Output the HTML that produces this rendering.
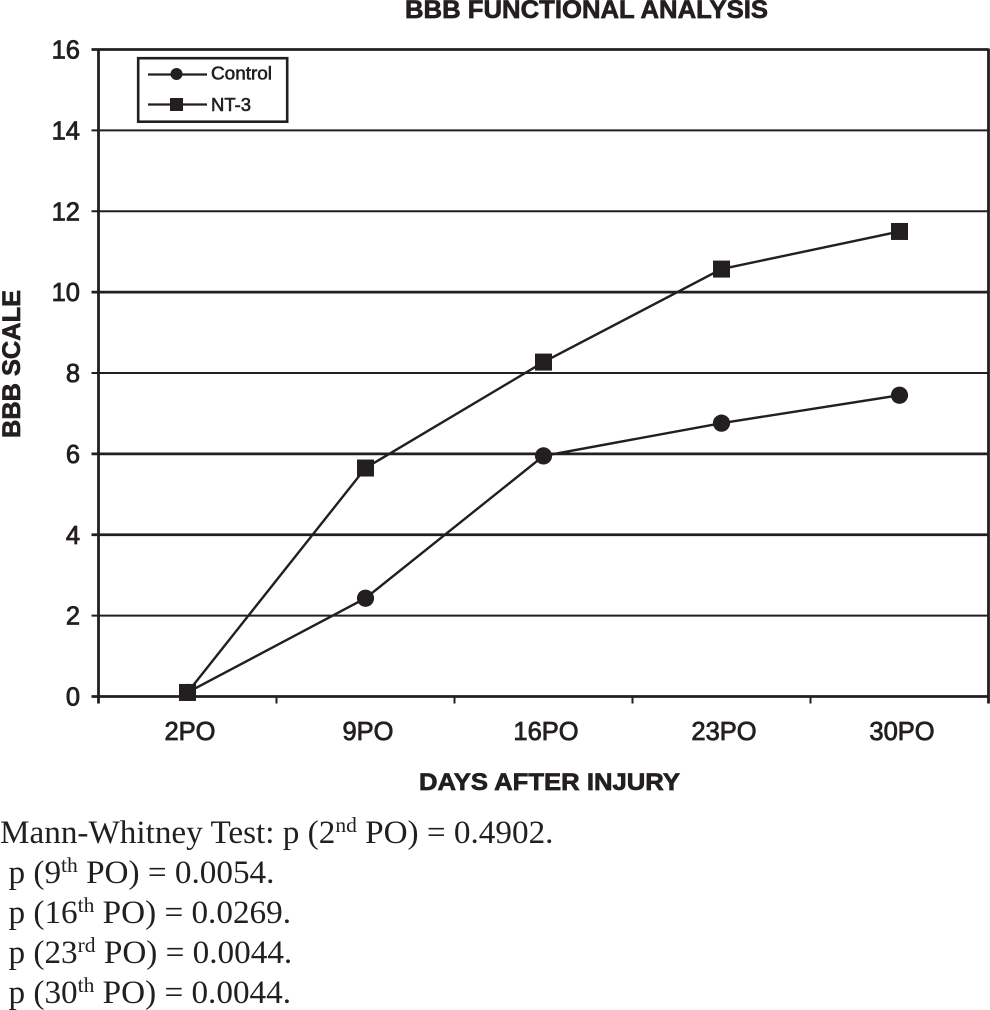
<!DOCTYPE html>
<html>
<head>
<meta charset="utf-8">
<title>BBB Functional Analysis</title>
<style>
html,body{margin:0;padding:0;background:#fff;width:990px;height:1010px;overflow:hidden}
svg{display:block}
.sans{font-family:"Liberation Sans",Arial,sans-serif;fill:#231f20}
.num{stroke:#231f20;stroke-width:.8px}
.heavy{stroke:#231f20;stroke-width:.7px}
.note{font-family:"Liberation Serif","Times New Roman",serif;font-size:33.2px;fill:#231f20}
</style>
</head>
<body>
<svg id="chart" width="990" height="1010" viewBox="0 0 990 1010" xmlns="http://www.w3.org/2000/svg">
  <g id="grid"></g>
  <g id="axes"></g>
  <g id="series"></g>

  <text class="sans heavy" x="405" y="18" font-size="25" font-weight="bold" textLength="363" lengthAdjust="spacingAndGlyphs">BBB FUNCTIONAL ANALYSIS</text>
  <text class="sans heavy" transform="translate(20,438) rotate(-90)" font-size="25" font-weight="bold" textLength="148" lengthAdjust="spacingAndGlyphs">BBB SCALE</text>
  <text class="sans heavy" x="419" y="790" font-size="24" font-weight="bold" textLength="261" lengthAdjust="spacingAndGlyphs">DAYS AFTER INJURY</text>

  <g>
    <rect x="138.2" y="58.2" width="149" height="63.5" fill="#fff" stroke="#231f20" stroke-width="2.6"/>
    <g>
      <line x1="148" y1="74.5" x2="207" y2="74.5" stroke="#231f20" stroke-width="2.2"/>
      <circle cx="176.5" cy="74" r="6" fill="#231f20"/>
      <text class="sans num" style="stroke-width:.6px" x="211" y="79.5" font-size="18.5" textLength="61" lengthAdjust="spacingAndGlyphs">Control</text>
    </g>
    <g>
      <line x1="148" y1="104.5" x2="207" y2="104.5" stroke="#231f20" stroke-width="2.2"/>
      <rect x="170" y="98" width="13" height="13" fill="#231f20"/>
      <text class="sans num" style="stroke-width:.6px" x="211" y="111" font-size="18.5" textLength="40" lengthAdjust="spacingAndGlyphs">NT-3</text>
    </g>
  </g>

  <g>
    <text class="note" x="0" y="843">Mann-Whitney Test: p (2<tspan dy="-11" font-size="21.5">nd</tspan><tspan dy="11"> PO) = 0.4902.</tspan></text>
    <text class="note" x="8.5" y="883">p (9<tspan dy="-11" font-size="21.5">th</tspan><tspan dy="11"> PO) = 0.0054.</tspan></text>
    <text class="note" x="8.5" y="923">p (16<tspan dy="-11" font-size="21.5">th</tspan><tspan dy="11"> PO) = 0.0269.</tspan></text>
    <text class="note" x="8.5" y="963">p (23<tspan dy="-11" font-size="21.5">rd</tspan><tspan dy="11"> PO) = 0.0044.</tspan></text>
    <text class="note" x="8.5" y="1003">p (30<tspan dy="-11" font-size="21.5">th</tspan><tspan dy="11"> PO) = 0.0044.</tspan></text>
  </g>
</svg>
<script>
var categories = ['2PO', '9PO', '16PO', '23PO', '30PO'];
var controlValues = [0.1, 2.43, 5.95, 6.76, 7.45];
var nt3Values = [0.1, 5.65, 8.27, 10.57, 11.5];
var yTickValues = [0, 2, 4, 6, 8, 10, 12, 14, 16];

var NS = 'http://www.w3.org/2000/svg';
var INK = '#231f20';
var plotLeft = 98.5, plotRight = 988.5, plotTop = 49.5, plotBottom = 696.5, yMax = 16;

function yScale(v) { return plotBottom - (v / yMax) * (plotBottom - plotTop); }
function bandWidth() { return (plotRight - plotLeft) / categories.length; }
function xScale(i) { return plotLeft + bandWidth() * (i + 0.5); }

function make(tag, attrs, parent) {
  var el = document.createElementNS(NS, tag);
  for (var k in attrs) el.setAttribute(k, attrs[k]);
  parent.appendChild(el);
  return el;
}

var grid = document.getElementById('grid');
var axes = document.getElementById('axes');
var series = document.getElementById('series');

yTickValues.forEach(function (v) {
  var y = yScale(v);
  var heavy = (v === 0 || v === 4 || v === 6 || v === 10 || v === 16);
  var line = make('line', { x1: plotLeft - 7, x2: plotRight, y1: y, y2: y, stroke: INK, 'stroke-width': heavy ? 2.8 : 2 }, grid);
  
  
  var label = make('text', { x: 80, y: y + 9, 'text-anchor': 'end', 'font-size': 25.5, 'class': 'sans num' }, axes);
  label.textContent = String(v);
  
  
});

var yAxis = make('line', { x1: plotLeft, x2: plotLeft, y1: plotTop - 1, y2: plotBottom + 7, stroke: INK, 'stroke-width': 2.8 }, axes);


var rightEdge = make('line', { x1: plotRight, x2: plotRight, y1: plotTop - 1, y2: plotBottom + 7, stroke: INK, 'stroke-width': 2.8 }, axes);



categories.forEach(function (c, i) {
  if (i > 0) {
    var tx = plotLeft + bandWidth() * i;
    var tick = make('line', { x1: tx, x2: tx, y1: plotBottom, y2: plotBottom + 7, stroke: INK, 'stroke-width': 2 }, axes);
    
    
  }
  var label = make('text', { x: xScale(i) + 2.5, y: 740, 'text-anchor': 'middle', 'font-size': 25.5, 'class': 'sans num' }, axes);
  label.textContent = c;
  
  
});

function pointsFor(values) {
  return values.map(function (v, i) { return xScale(i) + ',' + yScale(v); }).join(' ');
}

var controlLine = make('polyline', { points: pointsFor(controlValues), fill: 'none', stroke: INK, 'stroke-width': 2.4 }, series);


controlValues.forEach(function (v, i) {
  var dot = make('circle', { cx: xScale(i), cy: yScale(v), r: 8.6, fill: INK }, series);
  
  
});

var nt3Line = make('polyline', { points: pointsFor(nt3Values), fill: 'none', stroke: INK, 'stroke-width': 2.4 }, series);


nt3Values.forEach(function (v, i) {
  var sq = make('rect', { x: xScale(i) - 8.5, y: yScale(v) - 8.5, width: 17, height: 17, fill: INK }, series);
  
  
});
</script>
</body>
</html>
